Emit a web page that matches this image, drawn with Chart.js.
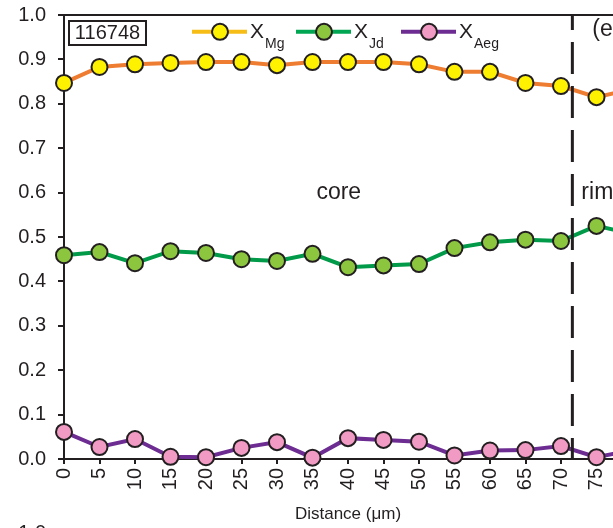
<!DOCTYPE html>
<html>
<head>
<meta charset="utf-8">
<script src="https://cdn.jsdelivr.net/npm/chart.js@4.4.1/dist/chart.umd.min.js"></script>
<style>
  html, body { margin: 0; padding: 0; background: #fff; overflow: hidden; }
  #wrap { position: relative; width: 660px; height: 528px; }
</style>
</head>
<body>
<div id="wrap"><canvas id="c"></canvas></div>
<script>
// Distance along the traverse (µm)
const distance = [0, 5, 10, 15, 20, 25, 30, 35, 40, 45, 50, 55, 60, 65, 70, 75, 80];
// Mole fractions
const xMg  = [0.847, 0.883, 0.889, 0.892, 0.894, 0.894, 0.887, 0.894, 0.894, 0.894, 0.889, 0.872, 0.872, 0.847, 0.840, 0.815, 0.833];
const xJd  = [0.459, 0.466, 0.441, 0.468, 0.464, 0.450, 0.446, 0.462, 0.432, 0.436, 0.439, 0.475, 0.488, 0.494, 0.491, 0.525, 0.507];
const xAeg = [0.061, 0.027, 0.045, 0.005, 0.004, 0.025, 0.038, 0.003, 0.047, 0.043, 0.039, 0.008, 0.019, 0.020, 0.029, 0.004, 0.020];
const yTicks = [0, 0.1, 0.2, 0.3, 0.4, 0.5, 0.6, 0.7, 0.8, 0.9, 1.0];
const coreRimBoundary = 71.6;

const INK = '#231F20';
const FONT = '"Liberation Sans", Arial, sans-serif';

const series = [
  { name: 'X', sub: 'Mg',  data: xMg,  line: '#EE7D31', legendLine: '#F7BD17', fill: '#FFF200', legendAt: 128 },
  { name: 'X', sub: 'Jd',  data: xJd,  line: '#009A49', legendLine: '#00A651', fill: '#8CC63F', legendAt: 232 },
  { name: 'X', sub: 'Aeg', data: xAeg, line: '#6C2C91', legendLine: '#6C2C91', fill: '#F19AC4', legendAt: 337 }
];

const datasets = series.map(s => ({
  label: s.name + s.sub,
  data: distance.map((d, i) => ({ x: d, y: s.data[i] })),
  borderColor: s.line,
  borderWidth: 4,
  pointRadius: 8,
  pointHoverRadius: 8,
  pointBackgroundColor: s.fill,
  pointBorderColor: INK,
  pointBorderWidth: 2,
  tension: 0,
  clip: false
}));

// Annotations: frame top, core/rim boundary, labels, sample box and legend
const decorations = {
  id: 'decorations',
  afterDraw(chart) {
    const { ctx, chartArea: a, scales: { x, y } } = chart;
    ctx.save();

    // top frame line
    ctx.strokeStyle = INK;
    ctx.lineWidth = 2;
    ctx.beginPath();
    ctx.moveTo(a.left - 1, a.top);
    ctx.lineTo(a.right, a.top);
    ctx.stroke();

    // dashed boundary between core and rim
    const bx = x.getPixelForValue(coreRimBoundary);
    ctx.lineWidth = 3;
    ctx.setLineDash([32, 12]);
    ctx.lineDashOffset = 17;
    ctx.beginPath();
    ctx.moveTo(bx, a.top);
    ctx.lineTo(bx, a.bottom);
    ctx.stroke();
    ctx.setLineDash([]);

    // region labels
    ctx.fillStyle = INK;
    ctx.textBaseline = 'middle';
    ctx.textAlign = 'center';
    ctx.font = '23px ' + FONT;
    ctx.fillText('core', x.getPixelForValue(38.7), y.getPixelForValue(0.6));
    ctx.textAlign = 'left';
    ctx.fillText('rim', bx + 9, y.getPixelForValue(0.6));
    ctx.fillText('(e)', bx + 20, y.getPixelForValue(0.967));

    // sample id box
    ctx.font = '20px ' + FONT;
    ctx.textAlign = 'center';
    ctx.lineWidth = 2;
    ctx.strokeStyle = INK;
    ctx.strokeRect(a.left + 5, a.top + 6, 77, 24);
    ctx.fillText('116748', a.left + 43.5, a.top + 18.5);

    // legend
    const ly = y.getPixelForValue(0.962);
    series.forEach(s => {
      const lx = a.left + s.legendAt;
      ctx.strokeStyle = s.legendLine;
      ctx.lineWidth = 4;
      ctx.beginPath();
      ctx.moveTo(lx, ly);
      ctx.lineTo(lx + 55, ly);
      ctx.stroke();
      ctx.beginPath();
      ctx.arc(lx + 28, ly, 8, 0, Math.PI * 2);
      ctx.fillStyle = s.fill;
      ctx.fill();
      ctx.strokeStyle = INK;
      ctx.lineWidth = 2;
      ctx.stroke();
      ctx.fillStyle = INK;
      ctx.textAlign = 'left';
      ctx.textBaseline = 'middle';
      ctx.font = '21px ' + FONT;
      ctx.fillText(s.name, lx + 58, ly);
      const xw = ctx.measureText(s.name).width;
      ctx.font = '14px ' + FONT;
      ctx.fillText(s.sub, lx + 58 + xw + 1, ly + 12);
    });

    // top label of the panel below
    ctx.font = '20px ' + FONT;
    ctx.textAlign = 'right';
    ctx.textBaseline = 'middle';
    ctx.fillStyle = INK;
    ctx.fillText('1.0', 46, 533);

    ctx.restore();
  }
};

new Chart(document.getElementById('c'), {
  type: 'line',
  data: { datasets },
  options: {
    responsive: true,
    maintainAspectRatio: false,
    animation: false,
    events: [],
    layout: { padding: { left: 18, right: 28, top: 15, bottom: 0 } },
    plugins: { legend: { display: false }, tooltip: { enabled: false } },
    scales: {
      x: {
        type: 'linear',
        min: 0, max: 80,
        afterBuildTicks(scale) { scale.ticks = distance.map(v => ({ value: v })); },
        afterFit(scale) { scale.height = 69; scale.paddingLeft = 0; scale.paddingRight = 0; },
        ticks: {
          autoSkip: false, maxRotation: 90, minRotation: 90,
          color: INK, font: { family: FONT, size: 20 }, padding: 4
        },
        grid: { drawOnChartArea: false, drawTicks: true, tickLength: 5, color: INK, lineWidth: 2 },
        border: { color: INK, width: 2 },
        title: {
          display: true, text: 'Distance (μm)', color: INK,
          font: { family: FONT, size: 17 }, padding: { top: 14, bottom: 3 }
        }
      },
      y: {
        min: 0, max: 1,
        afterBuildTicks(scale) { scale.ticks = yTicks.map(v => ({ value: v })); },
        afterFit(scale) { scale.width = 46; scale.paddingTop = 0; scale.paddingBottom = 0; },
        ticks: {
          color: INK, font: { family: FONT, size: 20 }, padding: 12,
          callback: v => v.toFixed(1)
        },
        grid: { drawOnChartArea: false, drawTicks: true, tickLength: 6, color: INK, lineWidth: 2 },
        border: { color: INK, width: 2 }
      }
    }
  },
  plugins: [decorations]
});
</script>
</body>
</html>
